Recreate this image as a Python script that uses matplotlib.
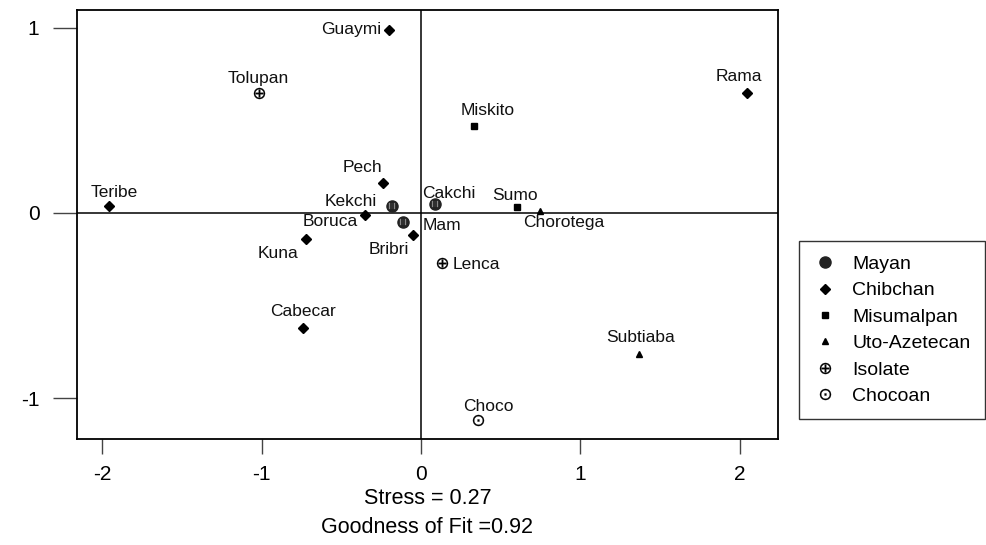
import matplotlib.pyplot as plt
from matplotlib.lines import Line2D

plt.rcParams['font.family'] = ['Liberation Sans', 'DejaVu Sans']

# MDS coordinates of each language, grouped by family
names = ['Guaymi', 'Tolupan', 'Rama', 'Miskito', 'Pech', 'Kekchi', 'Cakchi', 'Sumo',
         'Chorotega', 'Teribe', 'Boruca', 'Mam', 'Bribri', 'Kuna', 'Lenca',
         'Cabecar', 'Subtiaba', 'Choco']
dim1 = [-0.20, -1.02, 2.05, 0.33, -0.24, -0.18, 0.09, 0.60,
        0.75, -1.96, -0.35, -0.11, -0.05, -0.72, 0.13,
        -0.74, 1.37, 0.36]
dim2 = [0.99, 0.65, 0.65, 0.47, 0.16, 0.04, 0.05, 0.03,
        0.01, 0.04, -0.01, -0.05, -0.12, -0.14, -0.27,
        -0.62, -0.76, -1.12]
family = ['Chibchan', 'Isolate', 'Chibchan', 'Misumalpan', 'Chibchan', 'Mayan', 'Mayan', 'Misumalpan',
          'Uto-Azetecan', 'Chibchan', 'Chibchan', 'Mayan', 'Chibchan', 'Chibchan', 'Isolate',
          'Chibchan', 'Uto-Azetecan', 'Chocoan']
# label offsets in points (dx, dy) and alignment
label_pos = {
    'Guaymi': (-6, 0, 'right', 'center'),
    'Tolupan': (0, 5, 'center', 'bottom'),
    'Rama': (-6, 6, 'center', 'bottom'),
    'Miskito': (10, 6, 'center', 'bottom'),
    'Pech': (-15, 6, 'center', 'bottom'),
    'Kekchi': (-11, 3, 'right', 'center'),
    'Cakchi': (10, 2, 'center', 'bottom'),
    'Sumo': (-1, 3, 'center', 'bottom'),
    'Chorotega': (17, -3, 'center', 'top'),
    'Teribe': (4, 4, 'center', 'bottom'),
    'Boruca': (-5, -5, 'right', 'center'),
    'Mam': (14, -2, 'left', 'center'),
    'Bribri': (-3, -5, 'right', 'top'),
    'Kuna': (-6, -5, 'right', 'top'),
    'Lenca': (8, -1, 'left', 'center'),
    'Cabecar': (0, 6, 'center', 'bottom'),
    'Subtiaba': (1, 6, 'center', 'bottom'),
    'Choco': (7, 5, 'center', 'bottom'),
}

families = ['Mayan', 'Chibchan', 'Misumalpan', 'Uto-Azetecan', 'Isolate', 'Chocoan']
styles = {
    'Mayan': dict(marker='o', ms=8, mfc='#222222', mec='#222222'),
    'Chibchan': dict(marker='D', ms=5, mfc='black', mec='black'),
    'Misumalpan': dict(marker='s', ms=5, mfc='black', mec='black'),
    'Uto-Azetecan': dict(marker='^', ms=5, mfc='black', mec='black'),
    'Isolate': dict(marker='$\\oplus$', ms=8, mfc='black', mec='black', mew=0.2),
    'Chocoan': dict(marker='$\\odot$', ms=8, mfc='black', mec='black', mew=0.2),
}

fig = plt.figure(figsize=(9.87, 5.45), dpi=100)
ax = fig.add_axes([0.078, 0.1945, 0.71, 0.787])

ax.axhline(0, color='black', lw=1.1, zorder=1)
ax.axvline(0, color='black', lw=1.1, zorder=1)

for fam in families:
    xs = [x for x, f in zip(dim1, family) if f == fam]
    ys = [y for y, f in zip(dim2, family) if f == fam]
    ax.plot(xs, ys, ls='none', zorder=3, **styles[fam])
    if fam == 'Mayan':
        # dark circles with a light vertical hatch
        ax.plot(xs, ys, ls='none', marker='$|||$', ms=5, mfc='#888888', mec='#888888',
                mew=0.2, zorder=4)

for n, x, y in zip(names, dim1, dim2):
    dx, dy, ha, va = label_pos[n]
    ax.annotate(n, (x, y), xytext=(dx, dy), textcoords='offset points',
                ha=ha, va=va, fontsize=12.5, color='#111111')

ax.set_xlim(-2.16, 2.24)
ax.set_ylim(-1.22, 1.095)
ax.set_xticks([-2, -1, 0, 1, 2])
ax.set_yticks([-1, 0, 1])
ax.set_xticklabels(['-2', '-1', '0', '1', '2'])
ax.set_yticklabels(['-1', '0', '1'])
ax.tick_params(axis='x', length=11, width=1, color='#444444', pad=8, labelsize=15)
ax.tick_params(axis='y', length=17, width=1, color='#444444', pad=10, labelsize=15)
for s in ax.spines.values():
    s.set_linewidth(1.3)

xc = (0.078 + 0.078 + 0.71) / 2
fig.text(xc, 0.086, 'Stress = 0.27', ha='center', va='center', fontsize=15.5)
fig.text(xc, 0.033, 'Goodness of Fit =0.92', ha='center', va='center', fontsize=15.5)

handles = [Line2D([], [], ls='none', **styles[f]) for f in families]
leg = fig.legend(handles, families, loc='upper left',
                 bbox_to_anchor=(0.8095, 0.228, 0.188, 0.33), mode='expand',
                 bbox_transform=fig.transFigure, frameon=True, fancybox=False,
                 fontsize=14, handletextpad=0.8, labelspacing=0.45,
                 borderpad=0.75, handlelength=1.2, borderaxespad=0)
leg.get_frame().set_edgecolor('black')
leg.get_frame().set_linewidth(1.0)

fig.savefig('out.png', dpi=100)
